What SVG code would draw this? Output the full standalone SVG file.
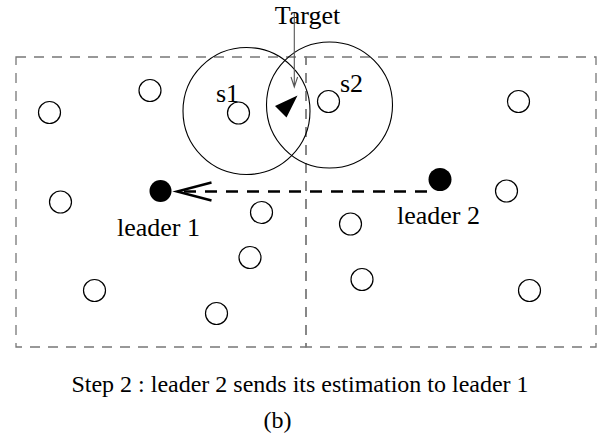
<svg xmlns="http://www.w3.org/2000/svg" width="600" height="439" viewBox="0 0 600 439">
  <style>
    text { font-family: "Liberation Serif", "Times New Roman", serif; fill: #000; }
    .label { font-size: 26px; }
    .caption { font-size: 24px; }
    .region { fill: none; stroke: #777; stroke-width: 1.3; stroke-dasharray: 10 8; }
    .sensor { fill: #fff; stroke: #000; stroke-width: 1.2; }
    .leader { fill: #000; stroke: none; }
    .range { fill: none; stroke: #000; stroke-width: 1.1; }
    .msg { fill: none; stroke: #000; stroke-width: 2.6; stroke-dasharray: 12 9; }
    .head { fill: none; stroke: #000; stroke-width: 2.4; }
    .pointer { fill: none; stroke: #555; stroke-width: 1.1; }
  </style>

  <!-- two cluster regions -->
  <g id="regions">
    <rect id="region-left" class="region" x="16" y="57" width="290" height="290"/>
    <rect id="region-right" class="region" x="306" y="57" width="290" height="290"/>
  </g>

  <!-- sensing ranges of s1 and s2 -->
  <g id="ranges">
    <circle class="range" cx="246.5" cy="111" r="63.5"/>
    <circle class="range" cx="329.5" cy="105" r="63"/>
  </g>

  <!-- ordinary sensors -->
  <g id="sensors">
    <circle class="sensor" cx="49.5" cy="112.5" r="11"/>
    <circle class="sensor" cx="150" cy="90.5" r="11"/>
    <circle class="sensor" cx="60.5" cy="202" r="11"/>
    <circle class="sensor" cx="261.5" cy="212.5" r="11"/>
    <circle class="sensor" cx="250" cy="257.5" r="11"/>
    <circle class="sensor" cx="94.5" cy="290.5" r="11"/>
    <circle class="sensor" cx="216.5" cy="313.5" r="11"/>
    <circle class="sensor" cx="518.5" cy="101.5" r="11"/>
    <circle class="sensor" cx="506.5" cy="191" r="11"/>
    <circle class="sensor" cx="350.5" cy="224" r="11"/>
    <circle class="sensor" cx="362" cy="279.5" r="11"/>
    <circle class="sensor" cx="529.5" cy="290.5" r="11"/>
  </g>

  <g id="s1">
    <circle class="sensor" cx="238.5" cy="113" r="11"/>
    <text class="label" x="227.5" y="101.5" text-anchor="middle">s1</text>
  </g>

  <g id="s2">
    <circle class="sensor" cx="328.5" cy="101.5" r="11"/>
    <text class="label" x="351.5" y="91.5" text-anchor="middle">s2</text>
  </g>

  <g id="leader1">
    <circle class="leader" cx="160.5" cy="191" r="11"/>
    <text class="label" x="158.5" y="236" text-anchor="middle">leader 1</text>
  </g>

  <g id="leader2">
    <circle class="leader" cx="440" cy="179.5" r="11.5"/>
    <text class="label" x="438.5" y="224" text-anchor="middle">leader 2</text>
  </g>

  <g id="target">
    <polygon fill="#000" points="275,106 297.5,95.5 286.5,117.5"/>
    <text class="label" x="307.5" y="23.5" text-anchor="middle">Target</text>
  </g>

  <!-- connectors -->
  <g id="connectors">
    <path class="pointer" d="M294.3,13 V87 M291,77 L294.3,87 L297.6,77"/>
    <line class="msg" x1="427" y1="191.5" x2="180" y2="191.5"/>
    <path class="head" d="M211.5,182.5 L177,191.5 L211.5,200.5"/>
  </g>

  <g id="caption">
    <text class="caption" x="300" y="392" text-anchor="middle">Step 2 : leader 2 sends its estimation to leader 1</text>
    <text class="caption" x="277.5" y="428" text-anchor="middle">(b)</text>
  </g>
</svg>
